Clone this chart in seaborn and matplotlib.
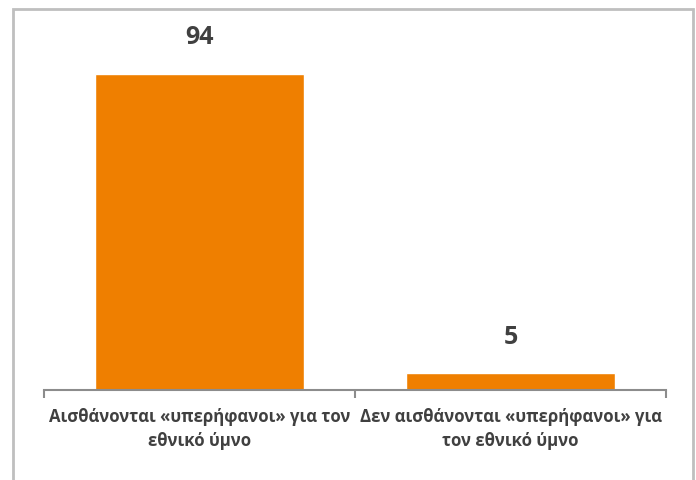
import matplotlib
matplotlib.use("Agg")
import matplotlib.pyplot as plt
import seaborn as sns
import pandas as pd
from matplotlib.patches import Rectangle

categories = ["Αισθάνονται «υπερήφανοι» για τον\nεθνικό ύμνο",
              "Δεν αισθάνονται «υπερήφανοι» για\nτον εθνικό ύμνο"]
values = [94, 5]

bar_color = "#EF7F00"
text_color = "#404040"

sns.set_style("white")
plt.rcParams['font.family'] = ['Open Sans', 'DejaVu Sans']

df = pd.DataFrame({'cat': categories, 'val': values})

fig = plt.figure(figsize=(6.96, 4.8), dpi=100)
ax = fig.add_axes([44/696, 90/480, 622/696, 368/480])
sns.barplot(data=df, x='cat', y='val', color=bar_color, saturation=1,
            width=0.675, ax=ax)

ax.set_xlim(-0.5, 1.5)
ax.set_ylim(0, 94 * 368 / 316)
ax.set_xlabel('')
ax.set_ylabel('')
ax.set_yticks([])
for s in ['top', 'right', 'left']:
    ax.spines[s].set_visible(False)
ax.spines['bottom'].set_color('#8C8C8C')
ax.spines['bottom'].set_linewidth(1.5)

ax.set_xticks([-0.5, 0.5, 1.5], minor=True)
ax.tick_params(axis='x', which='minor', length=6, width=1.5, color='#8C8C8C',
               direction='out', bottom=True)
ax.tick_params(axis='x', which='major', length=0, pad=13)
for lbl in ax.get_xticklabels():
    lbl.set_fontsize(12.1)
    lbl.set_fontweight('bold')
    lbl.set_color(text_color)
    lbl.set_linespacing(1.4)

for c in ax.containers:
    ax.bar_label(c, labels=[str(v) for v in values], padding=17,
                 fontsize=18, fontweight='bold', color=text_color)

# outer chart frame
fig.patches.append(Rectangle((13/696, -0.05), 680/696, 1.05 - 9/480,
                             transform=fig.transFigure, fill=False,
                             edgecolor='#BFBFBF', linewidth=2))

fig.savefig('out.png', dpi=100)
